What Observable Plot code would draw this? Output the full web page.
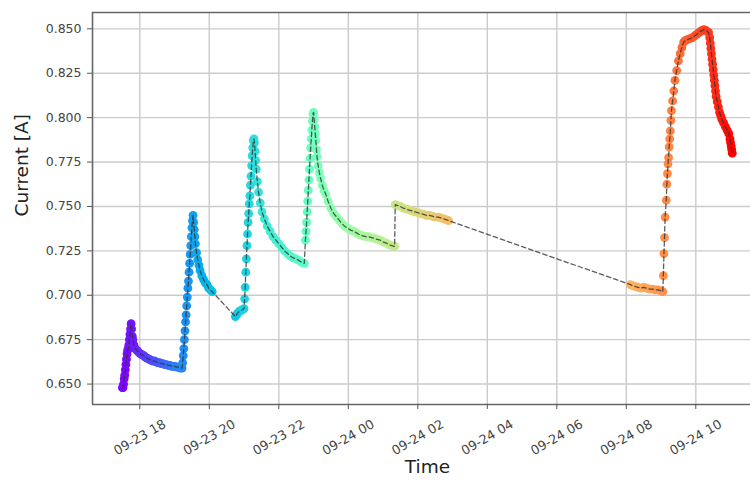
<!DOCTYPE html>
<html><head><meta charset="utf-8">
<script src="https://cdn.jsdelivr.net/npm/d3@7"></script>
<script src="https://cdn.jsdelivr.net/npm/@observablehq/plot@0.6"></script>
<style>body{margin:0;background:#fff}</style>
</head><body><div id="chart"></div>
<script>
// ---- data ----
const time = [
  // purple
  "09-23 17:30","09-23 17:31","09-23 17:32","09-23 17:33","09-23 17:34","09-23 17:35","09-23 17:36","09-23 17:37","09-23 17:38","09-23 17:39",
  "09-23 17:40","09-23 17:41","09-23 17:42","09-23 17:43","09-23 17:44","09-23 17:45","09-23 17:46","09-23 17:47","09-23 17:48","09-23 17:50",
  "09-23 17:52","09-23 17:55","09-23 17:58","09-23 18:01","09-23 18:04","09-23 18:07","09-23 18:10","09-23 18:13","09-23 18:16","09-23 18:19",
  "09-23 18:22","09-23 18:25","09-23 18:28","09-23 18:31","09-23 18:34","09-23 18:37","09-23 18:40","09-23 18:43","09-23 18:46","09-23 18:49",
  "09-23 18:52","09-23 18:55","09-23 18:58","09-23 19:01","09-23 19:04","09-23 19:07","09-23 19:10","09-23 19:13",
  // blue
  "09-23 19:14","09-23 19:15","09-23 19:16","09-23 19:17","09-23 19:18","09-23 19:19","09-23 19:20","09-23 19:21","09-23 19:22","09-23 19:23",
  "09-23 19:24","09-23 19:25","09-23 19:26","09-23 19:27","09-23 19:28","09-23 19:29","09-23 19:30","09-23 19:31","09-23 19:32","09-23 19:33",
  "09-23 19:34","09-23 19:35","09-23 19:36","09-23 19:38","09-23 19:40","09-23 19:42","09-23 19:44","09-23 19:47","09-23 19:50","09-23 19:53",
  "09-23 19:56","09-23 19:59","09-23 20:02","09-23 20:05",
  // cyan
  "09-23 20:45","09-23 20:47","09-23 20:49","09-23 20:52","09-23 20:55","09-23 20:58","09-23 21:00","09-23 21:01","09-23 21:02","09-23 21:03",
  "09-23 21:04","09-23 21:05","09-23 21:06","09-23 21:07","09-23 21:08","09-23 21:09","09-23 21:10","09-23 21:11","09-23 21:12","09-23 21:13",
  "09-23 21:14","09-23 21:15","09-23 21:16","09-23 21:17","09-23 21:18","09-23 21:19","09-23 21:20","09-23 21:21","09-23 21:23","09-23 21:25",
  "09-23 21:28","09-23 21:31","09-23 21:35","09-23 21:40","09-23 21:45","09-23 21:50","09-23 21:55","09-23 22:00","09-23 22:05","09-23 22:10",
  "09-23 22:15","09-23 22:20","09-23 22:25","09-23 22:30","09-23 22:35","09-23 22:40","09-23 22:44",
  // teal / green
  "09-23 22:46","09-23 22:47","09-23 22:48","09-23 22:49","09-23 22:50","09-23 22:51","09-23 22:52","09-23 22:53","09-23 22:54","09-23 22:55",
  "09-23 22:56","09-23 22:57","09-23 22:58","09-23 22:59","09-23 23:00","09-23 23:01","09-23 23:02","09-23 23:03","09-23 23:04","09-23 23:05",
  "09-23 23:06","09-23 23:08","09-23 23:10","09-23 23:12","09-23 23:15","09-23 23:18","09-23 23:21","09-23 23:25","09-23 23:30","09-23 23:35",
  "09-23 23:40","09-23 23:45","09-23 23:50","09-23 23:55","09-24 00:00","09-24 00:05","09-24 00:10","09-24 00:15","09-24 00:20","09-24 00:25",
  "09-24 00:30","09-24 00:35","09-24 00:40","09-24 00:45","09-24 00:50","09-24 00:55","09-24 01:00","09-24 01:05","09-24 01:10","09-24 01:15","09-24 01:20",
  // yellow
  "09-24 01:21","09-24 01:25","09-24 01:30","09-24 01:35","09-24 01:40","09-24 01:45","09-24 01:50","09-24 01:55","09-24 02:00","09-24 02:05",
  "09-24 02:10","09-24 02:15","09-24 02:20","09-24 02:25","09-24 02:30","09-24 02:35","09-24 02:40","09-24 02:45","09-24 02:50","09-24 02:53",
  // orange / red
  "09-24 08:07","09-24 08:10","09-24 08:15","09-24 08:20","09-24 08:25","09-24 08:30","09-24 08:35","09-24 08:40","09-24 08:45","09-24 08:50",
  "09-24 08:55","09-24 09:00","09-24 09:03","09-24 09:04","09-24 09:05","09-24 09:06","09-24 09:07","09-24 09:09","09-24 09:10","09-24 09:11",
  "09-24 09:12","09-24 09:13","09-24 09:14","09-24 09:15","09-24 09:16","09-24 09:17","09-24 09:18","09-24 09:20","09-24 09:22","09-24 09:24",
  "09-24 09:27","09-24 09:30","09-24 09:33","09-24 09:36","09-24 09:39","09-24 09:42","09-24 09:46","09-24 09:50","09-24 09:54","09-24 09:58",
  "09-24 10:02","09-24 10:06","09-24 10:10","09-24 10:14","09-24 10:18","09-24 10:22","09-24 10:24","09-24 10:25","09-24 10:26","09-24 10:27",
  "09-24 10:28","09-24 10:29","09-24 10:30","09-24 10:31","09-24 10:32","09-24 10:33","09-24 10:34","09-24 10:35","09-24 10:37","09-24 10:39",
  "09-24 10:41","09-24 10:43","09-24 10:45","09-24 10:48","09-24 10:51","09-24 10:54","09-24 10:57","09-24 10:59","09-24 11:00","09-24 11:01",
  "09-24 11:02","09-24 11:03"
];
const current = [
  // purple
  0.648,0.648,0.650,0.653,0.655,0.658,0.661,0.664,0.667,0.669,
  0.670,0.672,0.675,0.678,0.681,0.684,0.681,0.677,0.675,0.672,
  0.670,0.669,0.668,0.667,0.6665,0.666,0.665,0.6645,0.664,0.6635,
  0.663,0.663,0.6625,0.662,0.662,0.6615,0.6615,0.661,0.661,0.6605,
  0.6605,0.660,0.660,0.660,0.6595,0.6595,0.659,0.659,
  // blue
  0.662,0.666,0.670,0.675,0.680,0.685,0.689,0.694,0.699,0.704,
  0.708,0.713,0.718,0.723,0.728,0.733,0.738,0.742,0.745,0.741,
  0.737,0.733,0.729,0.724,0.720,0.717,0.714,0.711,0.709,0.707,
  0.706,0.704,0.703,0.702,
  // cyan
  0.688,0.689,0.690,0.691,0.6915,0.692,0.6925,0.698,0.7045,0.713,
  0.7205,0.728,0.7345,0.741,0.746,0.7515,0.756,0.762,0.767,0.773,
  0.7785,0.783,0.787,0.788,0.786,0.781,0.776,0.771,0.764,0.758,
  0.752,0.747,0.743,0.739,0.736,0.733,0.731,0.729,0.727,0.725,
  0.7235,0.722,0.721,0.7205,0.7195,0.7185,0.718,
  // teal / green
  0.731,0.736,0.741,0.747,0.753,0.759,0.765,0.771,0.777,0.783,
  0.788,0.793,0.798,0.802,0.803,0.799,0.795,0.791,0.787,0.782,
  0.778,0.773,0.769,0.766,0.762,0.759,0.757,0.753,0.749,0.746,
  0.744,0.742,0.740,0.7385,0.7375,0.7365,0.736,0.735,0.734,0.7335,
  0.733,0.733,0.7325,0.732,0.7315,0.731,0.730,0.7295,0.7285,0.728,0.7275,
  // yellow
  0.751,0.7505,0.750,0.749,0.7485,0.748,0.7475,0.747,0.7465,0.746,
  0.7455,0.745,0.745,0.7445,0.744,0.744,0.7435,0.743,0.7425,0.742,
  // orange / red
  0.706,0.7055,0.705,0.7045,0.704,0.7045,0.704,0.7035,0.7035,0.703,
  0.703,0.7025,0.702,0.711,0.7235,0.7325,0.744,0.7535,0.7625,0.7685,
  0.774,0.7775,0.7835,0.788,0.7925,0.7985,0.804,0.8095,0.815,0.821,
  0.8265,0.832,0.836,0.8395,0.8425,0.8435,0.844,0.8445,0.845,0.846,
  0.847,0.848,0.849,0.8495,0.849,0.848,0.845,0.842,0.839,0.836,
  0.833,0.830,0.827,0.824,0.821,0.818,0.815,0.812,0.809,0.806,
  0.803,0.801,0.799,0.797,0.795,0.793,0.791,0.788,0.786,0.784,
  0.782,0.780
];
const yTicks = [0.650, 0.675, 0.700, 0.725, 0.750, 0.775, 0.800, 0.825, 0.850];
const xTickTimes = ["09-23 18:00","09-23 20:00","09-23 22:00","09-24 00:00","09-24 02:00","09-24 04:00","09-24 06:00","09-24 08:00","09-24 10:00"];
const xLabel = "Time";
const yLabel = "Current [A]";

// ---- build ----
const parse = s => d3.utcParse("%Y-%m-%d %H:%M")("2023-" + s);
const fmt = d3.utcFormat("%m-%d %H");
const data = time.map((t, i) => ({t: parse(t), v: current[i]}));
// sample order (index-like), counting long gaps as a single step
let k = 0;
data.forEach((d, i) => { if (i > 0) k += Math.min(3, (d.t - data[i - 1].t) / 60000); d.k = k; });
const xTicks = xTickTimes.map(parse);

// matplotlib "rainbow" colormap
const rainbow = t => {
  const r = Math.min(1, Math.abs(2 * t - 0.5)), g = Math.max(0, Math.sin(Math.PI * t)), b = Math.max(0, Math.cos(Math.PI * t / 2));
  return `rgb(${Math.round(r * 255)},${Math.round(g * 255)},${Math.round(b * 255)})`;
};

const xDomain = [new Date(Date.UTC(2023, 8, 23, 16, 38, 20)), new Date(Date.UTC(2023, 8, 24, 11, 34, 26))];
const yDomain = [0.6385, 0.8592];

const chart = Plot.plot({
  width: 750, height: 482,
  marginLeft: 92, marginRight: 0, marginTop: 12, marginBottom: 78,
  style: {fontFamily: "DejaVu Sans", background: "#fff", overflow: "visible"},
  x: {type: "utc", domain: xDomain, axis: null},
  y: {domain: yDomain, axis: null},
  color: {type: "linear", domain: [0, k], interpolate: rainbow},
  marks: [
    Plot.ruleX(xTicks, {stroke: "#cbcbcb", strokeWidth: 1.4}),
    Plot.ruleY(yTicks, {stroke: "#cbcbcb", strokeWidth: 1.4}),
    Plot.dot(data, {x: "t", y: "v", fill: "k", r: 4.4, stroke: null}),
    Plot.line(data, {x: "t", y: "v", stroke: "#333", strokeOpacity: 0.8, strokeWidth: 1.3, strokeDasharray: "4.5,3"}),
    // spines
    Plot.ruleX([xDomain[0]], {stroke: "#666", strokeWidth: 1.6}),
    Plot.ruleY([yDomain[0]], {stroke: "#666", strokeWidth: 1.6}),
    Plot.ruleY([yDomain[1]], {stroke: "#666", strokeWidth: 1.6}),
    // y axis ticks + labels
    Plot.axisY(yTicks, {tickSize: 5, tickPadding: 6, tickFormat: d3.format(".3f"), fontSize: 12.5, color: "#444", stroke: "#555", label: null}),
    Plot.text([yLabel], {frameAnchor: "left", dx: -70, dy: 8, rotate: -90, fontSize: 18.5, fill: "#222"}),
    // x axis ticks + labels
    Plot.axisX(xTicks, {tickSize: 5, tickFormat: () => "", stroke: "#555", label: null}),
    Plot.text(xTicks, {x: d => d, frameAnchor: "bottom", text: d => fmt(d), rotate: -30, dy: 33, textAnchor: "middle", lineAnchor: "middle", fontSize: 12.8, fill: "#444"}),
    Plot.text([xLabel], {frameAnchor: "bottom", dx: 6, dy: 68, fontSize: 18.5, fill: "#222"})
  ]
});
document.getElementById("chart").appendChild(chart);
</script></body></html>
